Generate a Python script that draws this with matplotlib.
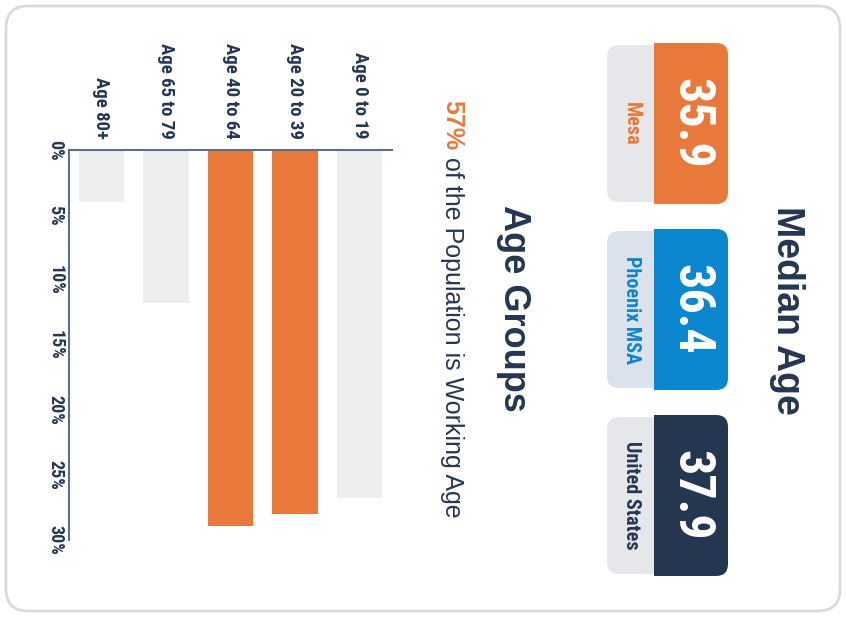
import matplotlib
matplotlib.use('Agg')
import matplotlib.pyplot as plt
from matplotlib.patches import FancyBboxPatch, Rectangle
from matplotlib import font_manager

# ---------------- data ----------------
age_groups = ['Age 80+', 'Age 65 to 79', 'Age 40 to 64', 'Age 20 to 39', 'Age 0 to 19']
age_shares = [4.0, 11.8, 28.9, 28.0, 26.8]
working_age = [False, False, True, True, False]
value_ticks = [0, 5, 10, 15, 20, 25, 30]
value_tick_labels = ['0%', '5%', '10%', '15%', '20%', '25%', '30%']

places = ['Mesa', 'Phoenix MSA', 'United States']
median_ages = [35.9, 36.4, 37.9]

title_median = 'Median Age'
title_groups = 'Age Groups'
working_pct = '57%'
working_text = ' of the Population is Working Age'

# ---------------- style ----------------
ORANGE = '#e8793a'
BLUE = '#0b87cf'
NAVY = '#253750'
GRAY_BAR = '#eeeeef'
AXIS = '#5c6f8a'
place_colors = [ORANGE, BLUE, NAVY]
label_bg = ['#e6e7ea', '#dbe2ec', '#e6e7ea']

names = {f.name for f in font_manager.fontManager.ttflist}
def pick(cands):
    for c in cands:
        if c in names:
            return c
    return 'DejaVu Sans'
COND = pick(['Roboto Condensed', 'Liberation Sans Narrow', 'DejaVu Sans Condensed', 'Liberation Sans'])
SANS = pick(['Liberation Sans', 'Roboto', 'DejaVu Sans'])

W, H = 846, 617
fig = plt.figure(figsize=(W / 100, H / 100), dpi=100)
fig.patch.set_facecolor('white')

bg = fig.add_axes([0, 0, 1, 1])
bg.set_xlim(0, W)
bg.set_ylim(H, 0)
bg.axis('off')

# card border
card = FancyBboxPatch((6, 6), W - 12, H - 12, boxstyle='round,pad=0,rounding_size=22',
                      fc='white', ec='#dadada', lw=2)
bg.add_patch(card)

# ---------------- bar chart ----------------
x0, x1 = 69, 392
y0, y1 = 150, 540
ax = fig.add_axes([x0 / W, 1 - y1 / H, (x1 - x0) / W, (y1 - y0) / H])
ax.patch.set_alpha(0)
xs = list(range(len(age_groups)))
cols = [ORANGE if w else GRAY_BAR for w in working_age]
ax.bar(xs, age_shares, width=0.70, color=cols, zorder=2)
ax.set_xlim(-0.5, len(age_groups) - 0.5)
ax.set_ylim(30, 0)
for s in ['right', 'bottom']:
    ax.spines[s].set_visible(False)
ax.spines['top'].set_color(AXIS)
ax.spines['left'].set_color(AXIS)
ax.spines['top'].set_linewidth(1.5)
ax.spines['left'].set_linewidth(1.5)
ax.set_xticks([])
ax.set_yticks(value_ticks)
ax.set_yticklabels(value_tick_labels, rotation=270, fontfamily=COND, fontweight='bold',
                   fontsize=13, color=NAVY, va='center', ha='center')
ax.tick_params(axis='y', length=0, pad=10)

for i, lab in enumerate(age_groups):
    ax.annotate(lab, xy=(i, 0), xycoords='data', xytext=(0, 11), textcoords='offset pixels',
                rotation=270, ha='center', va='bottom', fontfamily=COND, fontweight='bold',
                fontsize=13.5, color=NAVY, annotation_clip=False)

# ---------------- titles ----------------
bg.text(787, 310, title_median, rotation=270, ha='center', va='center', fontfamily=SANS,
        fontweight='bold', fontsize=27, color=NAVY)
bg.text(514, 308, title_groups, rotation=270, ha='center', va='center', fontfamily=SANS,
        fontweight='bold', fontsize=26, color=NAVY)
t1 = bg.text(452, 100, working_pct, rotation=270, ha='center', va='top', fontfamily=SANS,
             fontweight='bold', fontsize=18, color=ORANGE)
bg.annotate(working_text, xy=(0.5, 0), xycoords=t1, rotation=270, ha='center', va='top',
            fontfamily=SANS, fontsize=18, color=NAVY)

# ---------------- median age boxes ----------------
for i, (pl, val) in enumerate(zip(places, median_ages)):
    top = 43 + i * 186
    h = 161
    lb = FancyBboxPatch((607, top + 2), 60, h - 4, boxstyle='round,pad=0,rounding_size=12',
                        fc=label_bg[i], ec='none')
    bg.add_patch(lb)
    vb = FancyBboxPatch((654, top), 74, h, boxstyle='round,pad=0,rounding_size=12',
                        fc=place_colors[i], ec='none')
    bg.add_patch(vb)
    bg.add_patch(Rectangle((654, top), 20, h, fc=place_colors[i], ec='none'))
    bg.text(691, top + h / 2, f'{val:.1f}', rotation=270, ha='center', va='center',
            fontfamily=COND, fontweight='bold', fontsize=36, color='white')
    bg.text(631, top + h / 2, pl, rotation=270, ha='center', va='center',
            fontfamily=COND, fontweight='bold', fontsize=14.5, color=place_colors[i])

fig.savefig('out.png', dpi=100, facecolor='white')
